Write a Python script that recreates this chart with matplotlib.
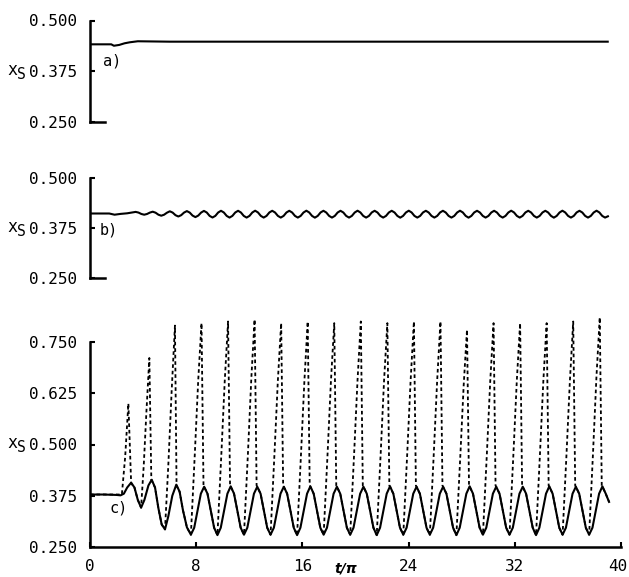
import numpy as np
import matplotlib
matplotlib.use("Agg")
import matplotlib.pyplot as plt
from matplotlib.transforms import blended_transform_factory, offset_copy, ScaledTranslation

# ---------------------------------------------------------------- data
# panel a) -- settles almost at once
t_a = [0.0, 1.6, 1.8, 2.2, 2.6, 3.0, 3.6, 6.0, 39.0]
xs_a = [0.4415, 0.4415, 0.4380, 0.4400, 0.4440, 0.4465, 0.4490, 0.4480, 0.4480]

# panel b) -- flat start, then a small steady ripple
t_b_start = [0.0, 1.45, 1.85, 2.3, 2.8, 3.2]
xs_b_start = [0.412, 0.412, 0.409, 0.411, 0.4125, 0.4148]
T_B0, DT_B = 3.44, 0.2143          # first crest, sample step (6 per ripple)
xs_b_wave = [
    0.4160, 0.4143, 0.4108, 0.4090, 0.4108, 0.4143,
    0.4165, 0.4140, 0.4090, 0.4065, 0.4090, 0.4140,
    0.4175, 0.4143, 0.4078, 0.4045, 0.4078, 0.4143,
    0.4180, 0.4143, 0.4068, 0.4030, 0.4068, 0.4143,
    0.4185, 0.4145, 0.4060, 0.4020, 0.4060, 0.4145,
    0.4188, 0.4145, 0.4060, 0.4018, 0.4060, 0.4145,
    0.4188, 0.4145, 0.4060, 0.4018, 0.4060, 0.4145,
    0.4190, 0.4146, 0.4060, 0.4018, 0.4060, 0.4146,
    0.4188, 0.4145, 0.4060, 0.4018, 0.4060, 0.4145,
    0.4188, 0.4145, 0.4060, 0.4018, 0.4060, 0.4145,
    0.4190, 0.4146, 0.4060, 0.4016, 0.4060, 0.4146,
    0.4188, 0.4145, 0.4060, 0.4018, 0.4060, 0.4145,
    0.4188, 0.4145, 0.4060, 0.4018, 0.4060, 0.4145,
    0.4190, 0.4146, 0.4060, 0.4018, 0.4060, 0.4146,
    0.4188, 0.4145, 0.4060, 0.4018, 0.4060, 0.4145,
    0.4188, 0.4145, 0.4060, 0.4016, 0.4060, 0.4145,
    0.4190, 0.4146, 0.4060, 0.4018, 0.4060, 0.4146,
    0.4188, 0.4145, 0.4060, 0.4018, 0.4060, 0.4145,
    0.4188, 0.4145, 0.4060, 0.4018, 0.4060, 0.4145,
    0.4190, 0.4146, 0.4060, 0.4016, 0.4060, 0.4146,
    0.4188, 0.4145, 0.4060, 0.4018, 0.4060, 0.4145,
    0.4188, 0.4145, 0.4060, 0.4018, 0.4060, 0.4145,
    0.4190, 0.4146, 0.4060, 0.4018, 0.4060, 0.4146,
    0.4188, 0.4145, 0.4060, 0.4018, 0.4060, 0.4145,
    0.4188, 0.4145, 0.4060, 0.4016, 0.4060, 0.4145,
    0.4190, 0.4146, 0.4060, 0.4018, 0.4060, 0.4146,
    0.4188, 0.4145, 0.4060, 0.4018, 0.4060, 0.4145,
    0.4190, 0.4146, 0.4060, 0.4018, 0.4050,
]

# panel c) solid curve -- transient, then period-2 oscillation
t_c_start = [0.0, 1.0, 2.0, 2.3, 2.55, 2.8, 3.1, 3.35, 3.6, 3.85, 4.1, 4.4,
             4.65, 4.9, 5.15, 5.4, 5.65, 5.9, 6.2, 6.5, 6.75, 7.0, 7.3]
xs_c_start = [0.378, 0.378, 0.377, 0.376, 0.380, 0.395, 0.407, 0.395, 0.365,
              0.346, 0.365, 0.400, 0.414, 0.395, 0.345, 0.305, 0.293, 0.325,
              0.375, 0.402, 0.385, 0.340, 0.298]
T_C0, DT_C = 7.6, 0.25             # first steady trough, sample step
xs_c_wave = [
    0.280, 0.297, 0.338, 0.380, 0.397, 0.380, 0.338, 0.297,
    0.279, 0.297, 0.338, 0.380, 0.398, 0.380, 0.338, 0.297,
    0.280, 0.297, 0.338, 0.380, 0.397, 0.380, 0.338, 0.297,
    0.280, 0.297, 0.338, 0.380, 0.397, 0.380, 0.338, 0.297,
    0.279, 0.297, 0.338, 0.380, 0.398, 0.380, 0.338, 0.297,
    0.280, 0.297, 0.338, 0.380, 0.397, 0.380, 0.338, 0.297,
    0.280, 0.297, 0.338, 0.380, 0.397, 0.380, 0.338, 0.297,
    0.279, 0.297, 0.338, 0.380, 0.398, 0.380, 0.338, 0.297,
    0.280, 0.297, 0.338, 0.380, 0.397, 0.380, 0.338, 0.297,
    0.280, 0.297, 0.338, 0.380, 0.397, 0.380, 0.338, 0.297,
    0.279, 0.297, 0.338, 0.380, 0.398, 0.380, 0.338, 0.297,
    0.280, 0.297, 0.338, 0.380, 0.397, 0.380, 0.338, 0.297,
    0.280, 0.297, 0.338, 0.380, 0.397, 0.380, 0.338, 0.297,
    0.279, 0.297, 0.338, 0.380, 0.398, 0.380, 0.338, 0.297,
    0.280, 0.297, 0.338, 0.380, 0.397, 0.380, 0.338, 0.297,
    0.280, 0.297, 0.338, 0.380, 0.398, 0.380, 0.360,
]

# panel c) dashed curve -- spikes ahead of every solid maximum
t_c_dash = [
    0.0, 2.4, 2.65, 2.89, 3.1, 3.35, 3.6, 3.85,
    4.05, 4.25, 4.47, 4.62, 4.9, 5.15, 5.4, 5.65,
    5.9, 6.15, 6.4, 6.52, 6.75, 7.0, 7.3, 7.6,
    7.9, 8.15, 8.4, 8.55, 8.85, 9.1, 9.35, 9.6,
    9.9, 10.15, 10.4, 10.55, 10.85, 11.1, 11.35, 11.6,
    11.9, 12.15, 12.4, 12.55, 12.85, 13.1, 13.35, 13.6,
    13.9, 14.15, 14.4, 14.55, 14.85, 15.1, 15.35, 15.6,
    15.9, 16.15, 16.4, 16.55, 16.85, 17.1, 17.35, 17.6,
    17.9, 18.15, 18.4, 18.55, 18.85, 19.1, 19.35, 19.6,
    19.9, 20.15, 20.4, 20.55, 20.85, 21.1, 21.35, 21.6,
    21.9, 22.15, 22.4, 22.55, 22.85, 23.1, 23.35, 23.6,
    23.9, 24.15, 24.4, 24.55, 24.85, 25.1, 25.35, 25.6,
    25.9, 26.15, 26.4, 26.55, 26.85, 27.1, 27.35, 27.6,
    27.9, 28.15, 28.4, 28.55, 28.85, 29.1, 29.35, 29.6,
    29.9, 30.15, 30.4, 30.55, 30.85, 31.1, 31.35, 31.6,
    31.9, 32.15, 32.4, 32.55, 32.85, 33.1, 33.35, 33.6,
    33.9, 34.15, 34.4, 34.55, 34.85, 35.1, 35.35, 35.6,
    35.9, 36.15, 36.4, 36.55, 36.85, 37.1, 37.35, 37.6,
    37.9, 38.15, 38.4, 38.55, 38.85, 39.1,
]
xs_c_dash = [
    0.378, 0.378, 0.470, 0.600, 0.405, 0.395, 0.365, 0.346,
    0.450, 0.580, 0.711, 0.414, 0.395, 0.345, 0.305, 0.293,
    0.450, 0.630, 0.790, 0.400, 0.385, 0.340, 0.298, 0.280,
    0.480, 0.655, 0.796, 0.400, 0.380, 0.338, 0.297, 0.279,
    0.480, 0.655, 0.800, 0.400, 0.380, 0.338, 0.297, 0.280,
    0.480, 0.660, 0.805, 0.400, 0.380, 0.338, 0.297, 0.280,
    0.480, 0.655, 0.796, 0.400, 0.380, 0.338, 0.297, 0.279,
    0.480, 0.655, 0.800, 0.400, 0.380, 0.338, 0.297, 0.280,
    0.480, 0.655, 0.796, 0.400, 0.380, 0.338, 0.297, 0.280,
    0.480, 0.655, 0.800, 0.400, 0.380, 0.338, 0.297, 0.279,
    0.480, 0.655, 0.796, 0.400, 0.380, 0.338, 0.297, 0.280,
    0.480, 0.655, 0.800, 0.400, 0.380, 0.338, 0.297, 0.280,
    0.480, 0.655, 0.800, 0.400, 0.380, 0.338, 0.297, 0.279,
    0.475, 0.645, 0.780, 0.400, 0.380, 0.338, 0.297, 0.280,
    0.480, 0.655, 0.796, 0.400, 0.380, 0.338, 0.297, 0.280,
    0.480, 0.655, 0.796, 0.400, 0.380, 0.338, 0.297, 0.279,
    0.480, 0.655, 0.796, 0.400, 0.380, 0.338, 0.297, 0.280,
    0.480, 0.655, 0.800, 0.400, 0.380, 0.338, 0.297, 0.280,
    0.485, 0.665, 0.810, 0.400, 0.380, 0.360,
]

panel_tags = ["a)", "b)", "c)"]
yticks_ab = [0.250, 0.375, 0.500]
yticks_c = [0.250, 0.375, 0.500, 0.625, 0.750]
xticks_c = [0, 8, 16, 24, 32, 40]

# ---------------------------------------------------------------- figure
W, H = 629, 577
fig = plt.figure(figsize=(W / 100, H / 100), dpi=100)

MONO = "DejaVu Sans Mono"
LW = 1.5


def px(x0, y_top, y_bot):
    """axes rect from pixel positions of the left spine and y range"""
    return [x0 / W, 1 - y_bot / H, 531 / W, (y_bot - y_top) / H]


ax_a = fig.add_axes(px(90, 20.5, 122.3))
ax_b = fig.add_axes(px(90, 178.3, 278.3))
ax_c = fig.add_axes(px(90, 313.3, 547.0))

ax_a.set_ylim(0.25, 0.50)
ax_b.set_ylim(0.25, 0.50)
ax_c.set_ylim(0.25, 0.82)

for ax, ticks in ((ax_a, yticks_ab), (ax_b, yticks_ab), (ax_c, yticks_c)):
    ax.set_xlim(0, 40)
    ax.spines["top"].set_visible(False)
    ax.spines["right"].set_visible(False)
    for s in ("left", "bottom"):
        ax.spines[s].set_linewidth(1.8)
    ax.spines["left"].set_bounds(ticks[0], ticks[-1])
    ax.set_yticks(ticks)
    ax.set_yticklabels(["%.3f" % v for v in ticks], fontfamily=MONO, fontsize=11.5)
    ax.tick_params(axis="both", direction="in", length=3.5, width=1.5, pad=9.5)
    ax.set_facecolor("none")

    # x_S label next to the middle tick label
    tr = blended_transform_factory(fig.transFigure, ax.transData)
    ymid = 0.500 if ax is ax_c else 0.375
    ax.text(7 / W, ymid, "x", transform=offset_copy(tr, fig, y=1, units="dots"),
            fontfamily=MONO, fontsize=12, ha="left", va="center")
    ax.text(17 / W, ymid, "S", transform=offset_copy(tr, fig, y=-3, units="dots"),
            fontfamily=MONO, fontsize=10.5, ha="left", va="center")

# only a short stub of bottom spine for a) and b)
for ax in (ax_a, ax_b):
    ax.spines["bottom"].set_bounds(0, 1.15)
    ax.set_xticks([])

ax_c.set_xticks(xticks_c)
ax_c.set_xticklabels([str(v) for v in xticks_c], fontfamily=MONO, fontsize=11.5)
ax_c.tick_params(axis="x", pad=8.5)
last = ax_c.get_xticklabels()[-1]
last.set_transform(last.get_transform() + ScaledTranslation(-3 / 100, 0, fig.dpi_scale_trans))

# curves
ax_a.plot(t_a, xs_a, color="black", lw=LW)

t_b = list(t_b_start) + list(T_B0 + DT_B * np.arange(len(xs_b_wave)))
xs_b = list(xs_b_start) + xs_b_wave
ax_b.plot(t_b, xs_b, color="black", lw=LW)

ax_c.plot(t_c_dash, xs_c_dash, color="black", lw=1.3, linestyle=(0, (2.0, 1.6)))
t_c = list(t_c_start) + list(T_C0 + DT_C * np.arange(len(xs_c_wave)))
xs_c = list(xs_c_start) + xs_c_wave
ax_c.plot(t_c, xs_c, color="black", lw=LW)

# panel tags
ax_a.text(1.0, 0.400, panel_tags[0], fontfamily=MONO, fontsize=11, va="center")
ax_b.text(0.75, 0.371, panel_tags[1], fontfamily=MONO, fontsize=11, va="center")
ax_c.text(1.5, 0.346, panel_tags[2], fontfamily=MONO, fontsize=11, va="center")

fig.text(346 / W, 1 - 562 / H, "t/π", fontsize=10, style="italic",
         fontweight="bold", ha="center", va="top")

fig.savefig("out.png", dpi=100)
